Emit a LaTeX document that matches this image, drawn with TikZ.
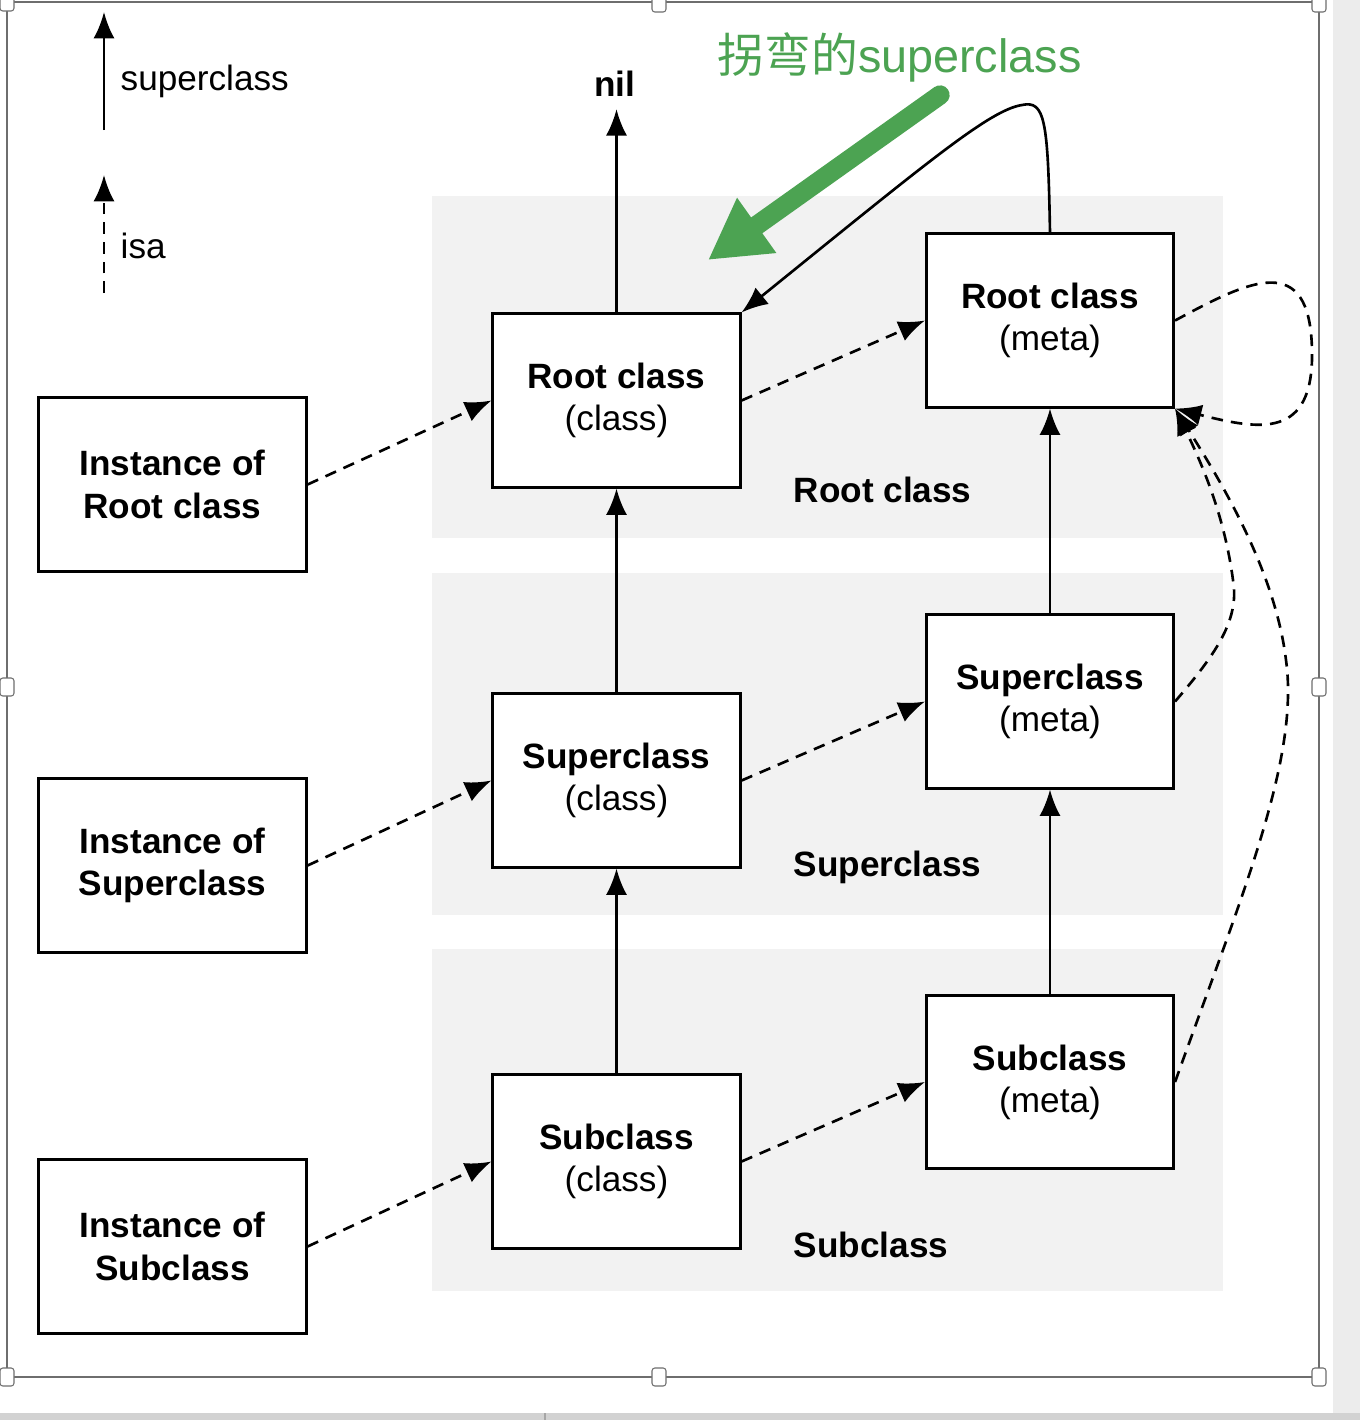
\documentclass[tikz,border=0pt]{standalone}
\usepackage{fontspec}
\setmainfont{Liberation Sans}
\newfontfamily\cjk{Noto Sans CJK SC}
\usepackage{tikz}
\usetikzlibrary{arrows.meta}
\definecolor{bandgray}{RGB}{242,242,242}
\definecolor{notegreen}{RGB}{76,163,82}
\definecolor{framegray}{RGB}{110,110,110}
\definecolor{stripgray}{RGB}{236,236,236}
\tikzset{
  classbox/.style={draw,line width=0.85pt,fill=white,minimum width=2.47cm,minimum height=1.73cm,align=center,font=\fontsize{10}{12}\selectfont,inner sep=0pt},
  instbox/.style={classbox,minimum width=2.67cm,font=\fontsize{10}{12}\selectfont\bfseries},
  super/.style={-{Latex[length=7.5pt,width=6pt]},line width=0.75pt},
  isa/.style={super,dash pattern=on 3.3pt off 2.3pt},
  band/.style={fill=bandgray},
  bandlabel/.style={anchor=west,inner sep=0pt,font=\fontsize{10}{12}\selectfont\bfseries},
  legendlabel/.style={anchor=west,inner sep=0pt,font=\fontsize{10}{12}\selectfont},
  greenarrow/.style={-{Triangle[length=17pt,width=18pt]},line width=5.5pt,line cap=round,notegreen},
  handle/.style={draw=framegray,fill=white,line width=0.3pt,rounded corners=0.8pt,minimum width=0.14cm,minimum height=0.18cm,inner sep=0pt}
}
\begin{document}
\begin{tikzpicture}[x=0.01cm,y=-0.01cm]
  \useasboundingbox (0,0) rectangle (1360,1420);
  \fill[white] (0,0) rectangle (1360,1420);
  \fill[stripgray] (1333,0) rectangle (1360,1420);
  \fill[gray!35] (0,1413) rectangle (1360,1420);
  \draw[gray!70,line width=0.4pt] (545,1413) -- (545,1420);

  % shaded rows
  \foreach \y in {196,573,949}
    \fill[band] (432,\y) rectangle (1223,\y+342);

  % legend
  \coordinate (leg-sup-a) at (104,130);
  \coordinate (leg-sup-b) at (104,12);
  \coordinate (leg-isa-a) at (104,293);
  \coordinate (leg-isa-b) at (104,175);
  \draw[super] (leg-sup-a) -- (leg-sup-b);
  \draw[isa] (leg-isa-a) -- (leg-isa-b);
  \node[legendlabel] (leg-sup) at (120,81) {superclass};
  \node[legendlabel] (leg-isa) at (120,246) {isa};

  % instances
  \node[instbox] (inst-root) at (172.5,484.5) {Instance of\\Root class};
  \node[instbox] (inst-super) at (172.5,865.5) {Instance of\\Superclass};
  \node[instbox] (inst-sub) at (172.5,1246.5) {Instance of\\Subclass};

  % classes
  \node[classbox] (root-c) at (616.5,400.5) {\textbf{Root class}\\(class)};
  \node[classbox] (super-c) at (616.5,780.5) {\textbf{Superclass}\\(class)};
  \node[classbox] (sub-c) at (616.5,1161.5) {\textbf{Subclass}\\(class)};

  % metaclasses
  \node[classbox] (root-m) at (1050,320.5) {\textbf{Root class}\\(meta)};
  \node[classbox] (super-m) at (1050,701.5) {\textbf{Superclass}\\(meta)};
  \node[classbox] (sub-m) at (1050,1082) {\textbf{Subclass}\\(meta)};

  \node[bandlabel] (lbl-root) at (793,490) {Root class};
  \node[bandlabel] (lbl-super) at (793,867) {Superclass};
  \node[bandlabel] (lbl-sub) at (793,1245) {Subclass};

  \node[inner sep=3.33pt,font=\fontsize{10}{12}\selectfont\bfseries] (nil) at (615,84) {nil};

  % superclass chain
  \draw[super] (root-c.north) -- (root-c.north |- nil.south);
  \draw[super] (super-c.north) -- (root-c.south);
  \draw[super] (sub-c.north) -- (super-c.south);
  \draw[super] (super-m.north) -- (root-m.south);
  \draw[super] (sub-m.north) -- (super-m.south);
  \draw[super] (root-m.north) .. controls (1048,120) and (1045,100) .. (1022,105)
    .. controls (990,110) and (930,160) .. (root-c.north east);

  % isa
  \draw[isa] (inst-root.east) -- (root-c.west);
  \draw[isa] (inst-super.east) -- (super-c.west);
  \draw[isa] (inst-sub.east) -- (sub-c.west);
  \draw[isa] (root-c.east) -- (root-m.west);
  \draw[isa] (super-c.east) -- (super-m.west);
  \draw[isa] (sub-c.east) -- (sub-m.west);
  \draw[isa] (root-m.east) .. controls (1250,280) and (1310,250) .. (1312,350)
    .. controls (1314,440) and (1260,430) .. (root-m.south east);
  \draw[isa] (super-m.east) .. controls (1215,655) and (1240,620) .. (1233,580)
    .. controls (1225,520) and (1205,470) .. (root-m.south east);
  \draw[isa] (sub-m.east) .. controls (1240,900) and (1300,760) .. (1286,660)
    .. controls (1275,570) and (1220,480) .. (root-m.south east);

  % note
  \node[anchor=west,inner sep=0pt,text=notegreen,font=\fontsize{13.3}{15}\selectfont] (note) at (717,57) {{\cjk 拐弯的}superclass};
  \coordinate (note-a) at (940,95);
  \coordinate (note-b) at (708,260);
  \draw[greenarrow] (note-a) -- (note-b);

  % selection frame
  \draw[framegray,line width=0.4pt] (7,2) rectangle (1319,1377);
  \foreach \hx/\hy [count=\i] in {7/2,659/3,1319/3,7/687,1319/687,7/1377,659/1377,1319/1377}
    \node[handle] (handle\i) at (\hx,\hy) {};
\end{tikzpicture}
\end{document}
